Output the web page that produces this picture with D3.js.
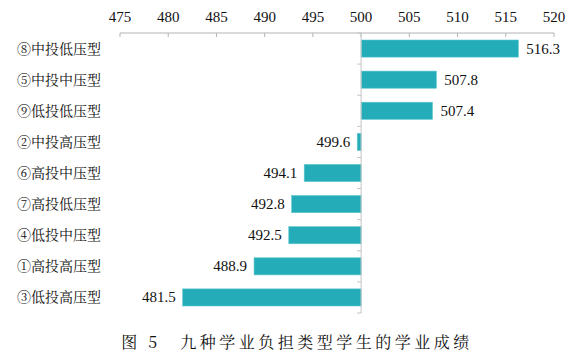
<!DOCTYPE html>
<html>
<head>
<meta charset="utf-8">
<script src="https://cdn.jsdelivr.net/npm/d3@7"></script>
<style>
  body { margin: 0; background: #fff; }
  svg text { fill: #111; }
  .num { font-family: 'Liberation Serif', 'Times New Roman', serif; font-size: 15px; }
  .cjk { font-family: 'Noto Serif CJK SC', 'Noto Sans CJK SC', serif; }
</style>
</head>
<body>
<div id="chart"></div>
<script>
"use strict"

const categories = ["⑧中投低压型", "⑤中投中压型", "⑨低投低压型", "②中投高压型", "⑥高投中压型",
    "⑦高投低压型", "④低投中压型", "①高投高压型", "③低投高压型"]
const scores = [516.3, 507.8, 507.4, 499.6, 494.1, 492.8, 492.5, 488.9, 481.5]
const xTicks = [475, 480, 485, 490, 495, 500, 505, 510, 515, 520]
const baseline = 500
const caption = "图 5　九种学业负担类型学生的学业成绩"

const width = 584, height = 362

const svg = d3.select("#chart").append("svg")
    .attr("width", width)
    .attr("height", height)

const x = d3.scaleLinear().domain([475, 520]).range([120, 554])
const y = d3.scaleBand().domain(categories).range([33, 313]).paddingInner(0.45).paddingOuter(0.225)

// top axis
const axisG = svg.append("g").attr("transform", "translate(0,33)")
axisG.append("line")
    .attr("x1", x(475)).attr("x2", x(520))
    .attr("stroke", "#b3b3b3")
axisG.selectAll(".tick")
    .data(xTicks)
    .enter()
    .append("line")
    .attr("x1", d => x(d)).attr("x2", d => x(d))
    .attr("y1", 0).attr("y2", 4)
    .attr("stroke", "#b3b3b3")
axisG.selectAll("text")
    .data(xTicks)
    .enter()
    .append("text")
    .attr("class", "num")
    .attr("font-family", "Liberation Serif")
    .attr("x", d => x(d))
    .attr("y", -11)
    .attr("text-anchor", "middle")
    .text(d => d)

// bars
svg.selectAll(".bar")
    .data(scores)
    .enter()
    .append("rect")
    .attr("class", "bar")
    .attr("x", d => x(Math.min(d, baseline)))
    .attr("width", d => Math.abs(x(d) - x(baseline)))
    .attr("y", (d, i) => y(categories[i]))
    .attr("height", y.bandwidth())
    .attr("fill", "#24adb8")
    .attr("stroke", "#5cc6cd")
    .attr("stroke-width", 0.6)

// vertical axis at 500
const step = y.step()
svg.append("line")
    .attr("x1", x(baseline)).attr("x2", x(baseline))
    .attr("y1", 33).attr("y2", 313)
    .attr("stroke", "#c4c4c4")
svg.selectAll(".ytick")
    .data(d3.range(categories.length + 1))
    .enter()
    .append("line")
    .attr("x1", x(baseline) - 4).attr("x2", x(baseline))
    .attr("y1", i => 33 + i * step).attr("y2", i => 33 + i * step)
    .attr("stroke", "#c4c4c4")

// value labels
svg.selectAll(".val")
    .data(scores)
    .enter()
    .append("text")
    .attr("class", "num")
    .attr("font-family", "Liberation Serif")
    .attr("x", d => d >= baseline ? x(d) + 8 : x(d) - 7)
    .attr("y", (d, i) => y(categories[i]) + y.bandwidth() / 2 + 5)
    .attr("text-anchor", d => d >= baseline ? "start" : "end")
    .text(d => d.toFixed(1))

// category labels
svg.selectAll(".cat")
    .data(categories)
    .enter()
    .append("text")
    .attr("class", "cjk")
    .attr("font-family", "Noto Serif CJK SC")
    .attr("x", 17)
    .attr("y", d => y(d) + y.bandwidth() / 2 + 5)
    .attr("font-size", 14)
    .text(d => d)

// caption
svg.append("text")
    .attr("class", "cjk")
    .attr("font-family", "Noto Serif CJK SC")
    .attr("x", 297)
    .attr("y", 348)
    .attr("text-anchor", "middle")
    .attr("font-size", 16)
    .attr("letter-spacing", 3.5)
    .text(caption)
</script>
</body>
</html>
